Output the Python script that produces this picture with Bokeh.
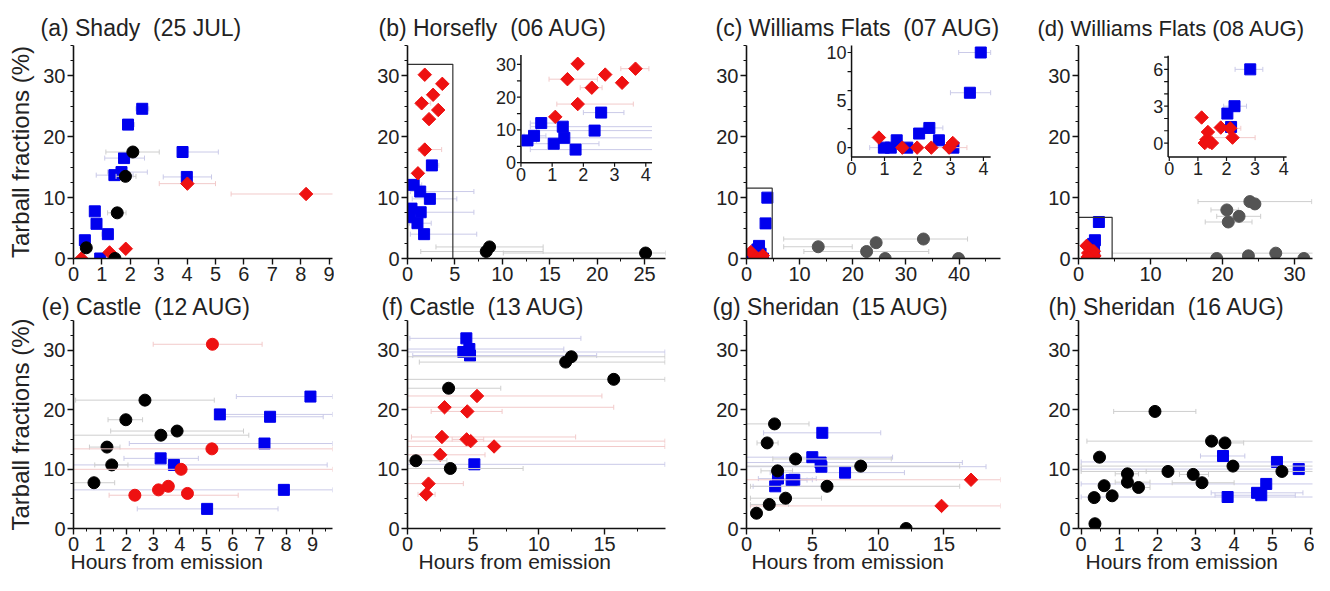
from math import pi
from bokeh.plotting import figure
from bokeh.layouts import row, column
from bokeh.models import Range1d, FixedTicker, Title
from bokeh.core.properties import value
from bokeh.embed import file_html
from bokeh.resources import INLINE

FONT = "Liberation Sans"
BLUE = "#0000ee"
RED = "#ee1111"
BLACK = "#000000"
GRAY = "#545454"
EB_BLUE = "#cacae8"
EB_RED = "#f2caca"
EB_BLACK = "#cecece"
SP = "\u00a0 "

TITLES = ["(a) Shady" + SP + "(25 JUL)", "(b) Horsefly" + SP + "(06 AUG)",
          "(c) Williams Flats" + SP + "(07 AUG)", "(d) Williams Flats (08 AUG)",
          "(e) Castle" + SP + "(12 AUG)", "(f) Castle" + SP + "(13 AUG)",
          "(g) Sheridan" + SP + "(15 AUG)", "(h) Sheridan" + SP + "(16 AUG)"]
YLABEL = "Tarball fractions (%)"
XLABEL = "Hours from emission"

# ---------------- (a) Shady ----------------
A_SQ_X = [0.40, 0.75, 0.81, 0.94, 1.21, 1.44, 1.69, 1.78, 1.92, 2.42, 3.84, 3.99]
A_SQ_Y = [3.0, 7.75, 5.7, 0.0, 4.0, 13.7, 14.2, 16.5, 22.0, 24.6, 17.5, 13.4]
A_SQ_LO = [0.35, 0.65, 0.72, 0.85, 1.0, 0.8, 1.2, 1.1, 1.75, 2.2, 3.84, 3.16]
A_SQ_HI = [0.45, 0.85, 0.9, 1.0, 1.4, 2.1, 2.6, 2.5, 2.15, 2.65, 5.1, 4.86]
A_CI_X = [0.45, 1.46, 1.54, 1.83, 2.09]
A_CI_Y = [1.76, 0.0, 7.5, 13.5, 17.5]
A_CI_LO = [0.45, 1.46, 1.2, 1.5, 1.14]
A_CI_HI = [0.45, 1.46, 1.85, 2.2, 3.02]
A_DI_X = [0.28, 1.27, 1.84, 4.01, 8.19]
A_DI_Y = [0.0, 1.0, 1.6, 12.3, 10.6]
A_DI_LO = [0.28, 1.27, 1.84, 3.02, 5.55]
A_DI_HI = [0.28, 1.27, 1.84, 5.0, 9.3]

# ---------------- (b) Horsefly ----------------
B_DI_X = [1.82, 3.67, 2.70, 1.49, 3.24, 2.27, 1.82, 1.10]
B_DI_Y = [30.2, 28.7, 26.9, 25.5, 24.4, 22.9, 17.9, 14.0]
B_DI_LO = [1.82, 3.2, 2.7, 0.9, 3.24, 1.9, 1.15, 1.1]
B_DI_HI = [1.82, 4.1, 2.7, 2.45, 3.24, 2.6, 3.6, 1.1]
B_SQ_X = [2.57, 0.65, 1.34, 2.36, 0.42, 1.39, 0.21, 1.05, 1.75]
B_SQ_Y = [15.3, 12.1, 11.0, 9.8, 8.2, 7.6, 6.8, 5.8, 4.0]
B_SQ_LO = [2.0, 0.3, 0.3, 0.5, 0.1, 0.4, 0.05, 0.2, 0.3]
B_SQ_HI = [3.3, 1.5, 7.0, 5.2, 0.8, 7.0, 0.5, 2.5, 7.3]
B_CI_X = [8.3, 8.65, 25.1]
B_CI_Y = [1.15, 1.9, 0.9]
B_CI_LO = [1.4, 3.0, 10.1]
B_CI_HI = [14.3, 14.3, 27.2]

# ---------------- (c) Williams Flats 07 AUG ----------------
C_SQ_X = [3.92, 3.59, 2.36, 2.05, 2.65, 1.37, 0.98, 1.19, 1.69, 3.09]
C_SQ_Y = [10.0, 5.77, 2.07, 1.48, 0.77, 0.77, 0.0, 0.0, 0.0, 0.0]
C_SQ_LO = [3.25, 3.0, 2.17, 2.05, 2.65, 1.37, 0.55, 1.19, 1.69, 3.09]
C_SQ_HI = [4.22, 4.22, 2.77, 2.05, 2.65, 1.37, 0.98, 1.19, 1.69, 3.09]
C_DI_X = [0.83, 1.54, 1.99, 2.42, 2.96, 3.07]
C_DI_Y = [1.06, 0.0, 0.0, 0.0, 0.0, 0.49]
C_DI_LO = [0.83, 1.54, 1.99, 2.42, 2.5, 3.07]
C_DI_HI = [0.83, 1.54, 1.99, 2.42, 3.5, 3.07]
C_GC_X = [13.5, 22.6, 24.4, 26.1, 33.3, 39.9]
C_GC_Y = [1.93, 1.15, 2.6, 0.0, 3.2, 0.0]
C_GC_LO = [7.0, 10.8, 24.4, 26.1, 7.0, 39.9]
C_GC_HI = [19.9, 34.3, 24.4, 26.1, 41.6, 39.9]

# ---------------- (d) Williams Flats 08 AUG ----------------
D_SQ_X = [2.83, 2.28, 2.03, 2.16]
D_SQ_Y = [6.0, 3.0, 2.4, 1.31]
D_SQ_LO = [2.3, 1.9, 2.03, 2.16]
D_SQ_HI = [3.27, 2.7, 2.03, 2.16]
D_DI_X = [1.13, 1.80, 2.13, 1.35, 2.21, 1.30, 1.24, 1.49, 1.40]
D_DI_Y = [2.08, 1.26, 1.2, 0.9, 0.44, 0.28, 0.0, 0.0, 0.1]
D_DI_LO = [1.13, 1.8, 1.9, 1.35, 1.5, 1.3, 1.24, 1.49, 1.4]
D_DI_HI = [1.13, 1.8, 2.5, 1.35, 3.0, 1.3, 1.24, 1.49, 1.4]
D_GC_X = [19.2, 20.6, 20.8, 22.3, 23.8, 24.5, 23.6, 27.4, 31.3]
D_GC_Y = [0.0, 7.98, 6.0, 6.93, 9.35, 8.97, 0.44, 0.88, 0.0]
D_GC_LO = [19.2, 18.4, 17.6, 19.2, 16.6, 24.5, 23.6, 4.7, 31.3]
D_GC_HI = [19.2, 22.2, 24.1, 25.3, 32.4, 24.5, 23.6, 33.6, 31.3]

# ---------------- (e) Castle 12 AUG ----------------
E_RC_X = [5.23, 5.21, 4.05, 3.57, 3.20, 4.29, 2.31]
E_RC_Y = [31.0, 13.4, 9.96, 7.1, 6.5, 5.9, 5.6]
E_RC_LO = [3.0, 0.0, 0.0, 3.57, 3.2, 4.29, 1.34]
E_RC_HI = [7.1, 9.75, 9.75, 3.57, 3.2, 4.29, 6.2]
E_BC_X = [2.69, 1.97, 3.90, 3.29, 1.26, 1.44, 0.77]
E_BC_Y = [21.6, 18.3, 16.4, 15.7, 13.7, 10.7, 7.7]
E_BC_LO = [0.08, 1.3, 1.4, 0.0, 0.6, 0.8, 0.0]
E_BC_HI = [5.3, 2.6, 6.4, 6.6, 1.75, 2.05, 1.55]
E_SQ_X = [8.92, 5.51, 7.40, 7.19, 3.28, 3.78, 7.92, 5.03]
E_SQ_Y = [22.2, 19.2, 18.8, 14.3, 11.8, 10.7, 6.5, 3.3]
E_SQ_LO = [6.13, 5.51, 5.5, 2.1, 1.9, 0.0, 0.0, 2.4]
E_SQ_HI = [9.75, 9.75, 9.4, 9.75, 4.7, 9.55, 9.75, 7.7]

# ---------------- (f) Castle 13 AUG ----------------
F_SQ_X = [4.48, 4.71, 4.25, 4.76, 5.09]
F_SQ_Y = [32.0, 30.2, 29.7, 29.1, 10.8]
F_SQ_LO = [0.18, 0.0, 0.0, 0.4, 0.0]
F_SQ_HI = [13.2, 11.9, 19.6, 14.4, 19.6]
F_BC_X = [12.47, 12.04, 15.7, 3.13, 0.64, 3.26]
F_BC_Y = [28.9, 28.0, 25.1, 23.6, 11.4, 10.1]
F_BC_LO = [0.0, 0.9, 0.0, 0.0, 0.0, 0.0]
F_BC_HI = [19.6, 19.6, 19.6, 7.1, 3.0, 8.8]
F_DI_X = [5.29, 2.82, 4.55, 2.62, 4.50, 4.81, 6.59, 2.49, 1.60, 1.42]
F_DI_Y = [22.3, 20.4, 19.7, 15.4, 15.0, 14.7, 13.8, 12.4, 7.55, 5.75]
F_DI_LO = [0.0, 0.0, 1.8, 0.3, 3.4, 0.0, 0.0, 0.0, 0.0, 0.8]
F_DI_HI = [14.8, 15.7, 7.2, 12.8, 5.8, 19.6, 19.6, 5.9, 4.25, 2.1]

# ---------------- (g) Sheridan 15 AUG ----------------
G_BC_X = [2.13, 1.57, 3.73, 2.36, 8.68, 6.12, 2.97, 1.73, 0.76, 12.13]
G_BC_Y = [17.6, 14.4, 11.7, 9.7, 10.5, 7.1, 5.1, 4.05, 2.57, 0.0]
G_BC_LO = [0.0, 0.8, 2.0, 1.1, 0.0, 0.3, 0.3, 0.3, 0.76, 12.13]
G_BC_HI = [4.75, 2.4, 11.0, 3.5, 16.2, 16.2, 5.7, 3.2, 0.76, 12.13]
G_SQ_X = [5.76, 5.00, 5.63, 5.69, 7.49, 2.39, 3.43, 3.63, 2.18]
G_SQ_Y = [16.1, 12.0, 11.1, 10.4, 9.4, 8.4, 8.15, 8.2, 7.1]
G_SQ_LO = [1.3, 0.0, 0.0, 0.0, 1.8, 0.9, 2.3, 2.4, 0.5]
G_SQ_HI = [10.2, 11.1, 16.4, 18.2, 12.0, 5.3, 4.6, 5.0, 5.7]
G_DI_X = [17.06, 14.82]
G_DI_Y = [8.2, 3.8]
G_DI_LO = [0.0, 0.3]
G_DI_HI = [19.3, 19.3]

# ---------------- (h) Sheridan 16 AUG ----------------
H_BC_X = [0.36, 0.34, 0.48, 0.60, 0.81, 1.21, 1.21, 1.50, 1.93, 2.27, 2.93, 3.16, 3.41, 3.76, 3.97, 5.25]
H_BC_Y = [0.8, 5.2, 12.0, 7.2, 5.5, 9.2, 7.8, 6.9, 19.7, 9.6, 9.1, 7.7, 14.7, 14.4, 10.5, 9.6]
H_BC_LO = [0.36, 0.34, 0.48, 0.6, 0.81, 0.89, 0.89, 1.3, 0.85, 1.7, 2.57, 2.38, 0.15, 3.5, 0.0, 0.0]
H_BC_HI = [0.36, 0.34, 0.48, 0.6, 0.81, 1.5, 1.8, 1.8, 3.0, 2.9, 3.33, 4.0, 6.16, 4.25, 6.16, 6.16]
H_SQ_X = [3.71, 3.83, 4.60, 4.71, 4.84, 5.12, 5.69]
H_SQ_Y = [12.2, 5.3, 6.0, 5.6, 7.5, 11.2, 10.0]
H_SQ_LO = [3.12, 0.0, 3.4, 3.5, 0.0, 0.0, 0.0]
H_SQ_HI = [4.28, 6.16, 5.8, 5.6, 6.16, 6.16, 6.16]

# zoom boxes (left, right, bottom, top)
BOX_B = [0, 4.78, 0, 31.9]
BOX_C = [0, 4.84, 0, 11.55]
BOX_D = [0, 4.67, 0, 6.77]

Y_RANGE = (0, 35)
Y_TICKS = [0, 10, 20, 30]
Y_MINOR = [2.5, 5, 7.5, 12.5, 15, 17.5, 22.5, 25, 27.5, 32.5, 35]


def draw_err(g, lo, hi, y, color, xmax=None):
    x0, x1, yy, cx, cy = [], [], [], [], []
    for a, b, c in zip(lo, hi, y):
        clipped = False
        if xmax is not None and b > xmax:
            b = xmax
            clipped = True
        if b - a > 1e-9:
            x0.append(a); x1.append(b); yy.append(c)
            cx.append(a); cy.append(c)
            if not clipped:
                cx.append(b); cy.append(c)
    if not x0:
        return
    g.segment(x0=x0, y0=yy, x1=x1, y1=yy, line_color=color, line_width=1)
    g.scatter(x=cx, y=cy, marker="dash", angle=pi / 2, size=5, line_color=color, line_width=1)


def draw_series(g, x, y, lo, hi, kind, color, ebcolor, xmax=None):
    draw_err(g, lo, hi, y, ebcolor, xmax)
    if kind == "square":
        g.scatter(x=x, y=y, marker="square", size=11, fill_color=color, line_color=color)
    elif kind == "diamond":
        g.scatter(x=x, y=y, marker="square", angle=pi / 4, size=9.5, fill_color=color, line_color=color)
    else:
        g.scatter(x=x, y=y, marker="circle", size=12, fill_color=color, line_color=color)


def style_axis(ax, ticks, minor):
    ax.ticker = FixedTicker(ticks=ticks, minor_ticks=minor)
    ax.axis_line_width = 1.6
    ax.axis_line_color = "#111111"
    ax.major_tick_line_color = "#111111"
    ax.minor_tick_line_color = "#111111"
    ax.major_tick_line_width = 1.4
    ax.major_tick_out = 6
    ax.major_tick_in = 0
    ax.minor_tick_out = 3
    ax.minor_tick_in = 0
    ax.major_label_text_font = FONT
    ax.major_label_text_font_size = "20px"
    ax.major_label_text_color = "#222222"
    ax.major_label_standoff = 2


def make_fig(idx, xr, xticks, xminor, width, height, bl, br, bt, bb, title_offset,
             ylabel=False, xlabel_offset=None, title_standoff=10, title_size="23px"):
    p = figure(width=width, height=height, x_range=Range1d(*xr), y_range=Range1d(*Y_RANGE),
               output_backend="svg", toolbar_location=None,
               min_border_left=bl, min_border_right=br, min_border_top=bt, min_border_bottom=bb)
    p.outline_line_color = None
    p.grid.visible = False
    p.background_fill_color = "white"
    p.border_fill_color = "white"
    style_axis(p.xaxis[0], xticks, xminor)
    style_axis(p.yaxis[0], Y_TICKS, Y_MINOR)
    if ylabel:
        p.yaxis.axis_label = YLABEL
        p.yaxis.axis_label_text_font = FONT
        p.yaxis.axis_label_text_font_size = "24px"
        p.yaxis.axis_label_text_font_style = "normal"
        p.yaxis.axis_label_text_color = "#222222"
        p.yaxis.axis_label_standoff = 6
    p.title.text = TITLES[idx]
    p.title.align = "left"
    p.title.offset = title_offset
    p.title.text_font = FONT
    p.title.text_font_size = title_size
    p.title.text_font_style = "normal"
    p.title.text_color = "#222222"
    p.title.standoff = title_standoff
    if xlabel_offset is not None:
        t = Title(text=XLABEL, align="left", offset=xlabel_offset, text_font=FONT,
                  text_font_size="21px", text_font_style="normal", text_color="#222222", standoff=-11)
        p.add_layout(t, "below")
    return p


def draw_box(p, box):
    p.quad(left=[box[0]], right=[box[1]], bottom=[box[2]], top=[box[3]],
           fill_color=None, line_color="#333333", line_width=1.2)


def make_inset(p, xs, ys, xt, yt, xlabs, ylabs, xmarks, ymarks):
    g = p.subplot(x_source=Range1d(*xs), y_source=Range1d(*ys),
                  x_target=Range1d(*xt), y_target=Range1d(*yt))
    g.segment(x0=[xs[0], xs[0]], y0=[ys[0], ys[0]], x1=[xs[1], xs[0]], y1=[ys[0], ys[1]],
              line_color="#111111", line_width=1.5)
    g.ray(x=xmarks, y=[ys[0]] * len(xmarks), length=4, angle=-pi / 2, length_units="screen",
          line_color="#111111", line_width=1.2)
    g.ray(x=[xs[0]] * len(ymarks), y=ymarks, length=4, angle=pi, length_units="screen",
          line_color="#111111", line_width=1.2)
    g.text(x=xlabs, y=[ys[0]] * len(xlabs), text=[str(v) for v in xlabs], y_offset=5,
           text_align="center", text_baseline="top", text_font=value(FONT),
           text_font_size="18px", text_color="#222222")
    g.text(x=[xs[0]] * len(ylabs), y=ylabs, text=[str(v) for v in ylabs], x_offset=-5,
           text_align="right", text_baseline="middle", text_font=value(FONT),
           text_font_size="18px", text_color="#222222")
    return g


TOP_H, BOT_H = 289, 286
TB, TBB = 45, 31     # top row borders (top, bottom)
BT, BBB = 31, 47     # bottom row borders (top, bottom)

# (a)
pa = make_fig(0, (0, 9.12), list(range(10)), [], 334, TOP_H, 73, 2, TB, TBB, -33, ylabel=True)
draw_series(pa, A_SQ_X, A_SQ_Y, A_SQ_LO, A_SQ_HI, "square", BLUE, EB_BLUE)
draw_series(pa, A_DI_X, A_DI_Y, A_DI_LO, A_DI_HI, "diamond", RED, EB_RED)
draw_series(pa, A_CI_X, A_CI_Y, A_CI_LO, A_CI_HI, "circle", BLACK, EB_BLACK)

# (b)
pb = make_fig(1, (0, 27.2), [0, 5, 10, 15, 20, 25], [2.5, 7.5, 12.5, 17.5, 22.5], 333, TOP_H, 73, 2, TB, TBB, -29)
draw_series(pb, B_SQ_X, B_SQ_Y, B_SQ_LO, B_SQ_HI, "square", BLUE, EB_BLUE)
draw_series(pb, B_DI_X, B_DI_Y, B_DI_LO, B_DI_HI, "diamond", RED, EB_RED)
draw_series(pb, B_CI_X, B_CI_Y, B_CI_LO, B_CI_HI, "circle", BLACK, EB_BLACK)
draw_box(pb, BOX_B)
gb = make_inset(pb, (0, 4.2), (0, 32.9), (11.96, 25.78), (15.74, 33.45),
                [0, 1, 2, 3, 4], [0, 10, 20, 30], [0, 1, 2, 3, 4], [0, 5, 10, 15, 20, 25, 30])
draw_series(gb, B_SQ_X, B_SQ_Y, B_SQ_LO, B_SQ_HI, "square", BLUE, EB_BLUE, xmax=4.2)
draw_series(gb, B_DI_X, B_DI_Y, B_DI_LO, B_DI_HI, "diamond", RED, EB_RED, xmax=4.2)

# (c)
pc = make_fig(2, (0, 47.8), [0, 10, 20, 30, 40], [5, 15, 25, 35, 45], 335, TOP_H, 79, 2, TB, TBB, -31)
draw_series(pc, C_GC_X, C_GC_Y, C_GC_LO, C_GC_HI, "circle", GRAY, EB_BLACK)
draw_series(pc, C_SQ_X, C_SQ_Y, C_SQ_LO, C_SQ_HI, "square", BLUE, EB_BLUE)
draw_series(pc, C_DI_X, C_DI_Y, C_DI_LO, C_DI_HI, "diamond", RED, EB_RED)
draw_box(pc, BOX_C)
gc = make_inset(pc, (0, 4.22), (-0.99, 10.8), (19.77, 45.95), (16.67, 35.1),
                [0, 1, 2, 3, 4], [0, 5, 10], [0, 1, 2, 3, 4], [0, 2, 4, 6, 8, 10])
draw_series(gc, C_SQ_X, C_SQ_Y, C_SQ_LO, C_SQ_HI, "square", BLUE, EB_BLUE, xmax=4.22)
draw_series(gc, C_DI_X, C_DI_Y, C_DI_LO, C_DI_HI, "diamond", RED, EB_RED, xmax=4.22)

# (d)
pd_ = make_fig(3, (0, 32.5), [0, 10, 20, 30], [5, 15, 25], 312, TOP_H, 76, 2, TB, TBB, -41, title_size="22px")
draw_series(pd_, D_GC_X, D_GC_Y, D_GC_LO, D_GC_HI, "circle", GRAY, EB_BLACK)
draw_series(pd_, D_SQ_X, D_SQ_Y, D_SQ_LO, D_SQ_HI, "square", BLUE, EB_BLUE)
draw_series(pd_, D_DI_X, D_DI_Y, D_DI_LO, D_DI_HI, "diamond", RED, EB_RED)
draw_box(pd_, BOX_D)
gd = make_inset(pd_, (-0.04, 4.1), (-1.14, 7.1), (12.45, 28.9), (16.67, 33.3),
                [0, 1, 2, 3, 4], [0, 3, 6], [0, 1, 2, 3, 4], [0, 1, 2, 3, 4, 5, 6, 7])
draw_series(gd, D_SQ_X, D_SQ_Y, D_SQ_LO, D_SQ_HI, "square", BLUE, EB_BLUE, xmax=4.1)
draw_series(gd, D_DI_X, D_DI_Y, D_DI_LO, D_DI_HI, "diamond", RED, EB_RED, xmax=4.1)

# (e)
half = [i + 0.5 for i in range(10)]
pe = make_fig(4, (0, 9.75), list(range(10)), half, 334, BOT_H, 73, 2, BT, BBB, -32, ylabel=True,
              xlabel_offset=-3, title_standoff=2)
draw_series(pe, E_SQ_X, E_SQ_Y, E_SQ_LO, E_SQ_HI, "square", BLUE, EB_BLUE)
draw_series(pe, E_BC_X, E_BC_Y, E_BC_LO, E_BC_HI, "circle", BLACK, EB_BLACK)
draw_series(pe, E_RC_X, E_RC_Y, E_RC_LO, E_RC_HI, "circle", RED, EB_RED)

# (f)
pf = make_fig(5, (0, 19.64), [0, 5, 10, 15], [2.5, 7.5, 12.5, 17.5], 333, BOT_H, 73, 2, BT, BBB, -26,
              xlabel_offset=11, title_standoff=2)
draw_series(pf, F_SQ_X, F_SQ_Y, F_SQ_LO, F_SQ_HI, "square", BLUE, EB_BLUE)
draw_series(pf, F_DI_X, F_DI_Y, F_DI_LO, F_DI_HI, "diamond", RED, EB_RED)
draw_series(pf, F_BC_X, F_BC_Y, F_BC_LO, F_BC_HI, "circle", BLACK, EB_BLACK)

# (g)
pg = make_fig(6, (0, 19.3), [0, 5, 10, 15], [2.5, 7.5, 12.5, 17.5], 335, BOT_H, 79, 2, BT, BBB, -34,
              xlabel_offset=5, title_standoff=2)
draw_series(pg, G_SQ_X, G_SQ_Y, G_SQ_LO, G_SQ_HI, "square", BLUE, EB_BLUE)
draw_series(pg, G_DI_X, G_DI_Y, G_DI_LO, G_DI_HI, "diamond", RED, EB_RED)
draw_series(pg, G_BC_X, G_BC_Y, G_BC_LO, G_BC_HI, "circle", BLACK, EB_BLACK)

# (h)
ph = make_fig(7, (-0.07, 6.05), list(range(7)), [i + 0.5 for i in range(6)], 312, BOT_H, 76, 2, BT, BBB, -30,
              xlabel_offset=7, title_standoff=2)
draw_series(ph, H_SQ_X, H_SQ_Y, H_SQ_LO, H_SQ_HI, "square", BLUE, EB_BLUE)
draw_series(ph, H_BC_X, H_BC_Y, H_BC_LO, H_BC_HI, "circle", BLACK, EB_BLACK)

layout = column(row(pa, pb, pc, pd_, spacing=0), row(pe, pf, pg, ph, spacing=0), spacing=0)

open("out.html", "w").write(file_html(layout, INLINE))
